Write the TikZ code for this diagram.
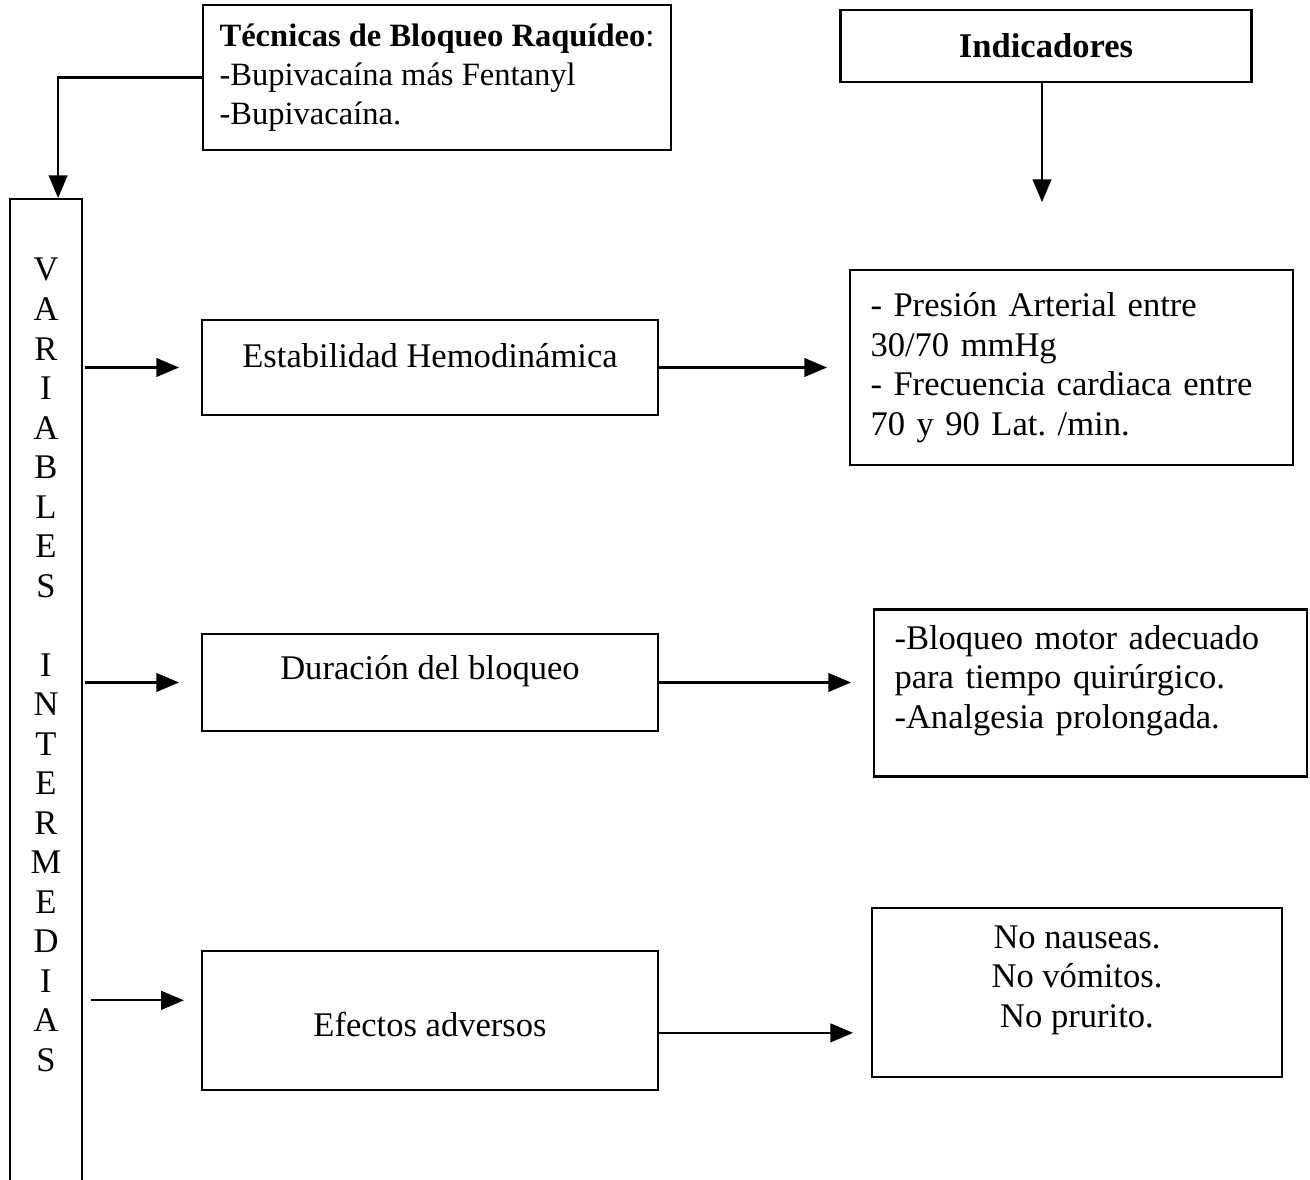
\documentclass[tikz,border=0pt]{standalone}
\usepackage{fontspec}
\setmainfont{Liberation Serif}
\usetikzlibrary{arrows}
\frenchspacing
\newcommand{\pxu}{0.3472pt}

\begin{document}
\begin{tikzpicture}[x=0.3472pt,y=-0.3472pt,>=triangle 45,line width=0.8pt,
  font=\fontsize{12}{13.72}\selectfont,
  caja/.style={draw,rectangle,inner sep=0pt}]
\useasboundingbox (0,0) rectangle (1310,1180);
% cabecera
\node[caja,align=left,minimum width=468*\pxu,minimum height=145*\pxu,font=\fontsize{11.3}{13.6}\selectfont] (tecnicas) at (437,77.5) {\textbf{Técnicas de Bloqueo Raquídeo}:\\-Bupivacaína más Fentanyl\\-Bupivacaína.};
\node[caja,minimum width=411*\pxu,minimum height=72*\pxu] (indicadores) at (1046,46) {\textbf{Indicadores}};
% variables intermedias
\node[caja,anchor=north,minimum width=72*\pxu,minimum height=1010*\pxu] (variables) at (46,198) {};
\node[align=center] (letras) at (46,665) {V\\A\\R\\I\\A\\B\\L\\E\\S\\[13.72pt]I\\N\\T\\E\\R\\M\\E\\D\\I\\A\\S};
\node[caja,minimum width=456*\pxu,minimum height=95*\pxu,text height=9pt,text depth=9.3pt] (estabilidad) at (430,367.5) {Estabilidad Hemodinámica};
\node[caja,minimum width=456*\pxu,minimum height=97*\pxu,text height=9pt,text depth=10.8pt] (duracion) at (430,682.5) {Duración del bloqueo};
\node[caja,minimum width=456*\pxu,minimum height=139*\pxu,text height=11.2pt,text depth=0pt] (efectos) at (430,1020.5) {Efectos adversos};
% indicadores
\node[caja,text width=402*\pxu,align=left,minimum width=443*\pxu,minimum height=195*\pxu] (presion) at (1071.5,367.5) {- Presión Arterial entre\\30/70 mmHg\\- Frecuencia cardiaca entre\\70 y 90 Lat. /min.};
\node[caja,text width=392*\pxu,align=left,minimum width=433*\pxu,minimum height=167*\pxu,text depth=38.6pt] (bloqueo) at (1090.5,693) {-Bloqueo motor adecuado\\para tiempo quirúrgico.\\-Analgesia prolongada.};
\node[caja,align=center,minimum width=410*\pxu,minimum height=169*\pxu,text depth=11.2pt] (nausea) at (1077,992.5) {No nauseas.\\No vómitos.\\No prurito.};
% flechas
\coordinate (indfin) at (1042,202);
\draw[->] (tecnicas.west) -| ([xshift=4.2pt]variables.north);
\draw[->] (indicadores.south -| indfin) -- (indfin);
\draw[->] ([xshift=0.7pt]variables.east |- estabilidad.west) -- ([xshift=-7.6pt]estabilidad.west);
\draw[->] ([xshift=0.7pt]variables.east |- duracion.west) -- ([xshift=-7.6pt]duracion.west);
\draw[->] ([xshift=2.8pt,yshift=7pt]variables.east |- efectos.west) -- ([xshift=-5.9pt,yshift=7pt]efectos.west);
\draw[->] (estabilidad.east) -- ([xshift=-7.6pt]estabilidad.east -| presion.west);
\draw[->] (duracion.east) -- ([xshift=-7.6pt]duracion.east -| bloqueo.west);
\draw[->] ([yshift=-4.3pt]efectos.east) -- ([xshift=-6.2pt,yshift=-4.3pt]efectos.east -| nausea.west);
\end{tikzpicture}
\end{document}
